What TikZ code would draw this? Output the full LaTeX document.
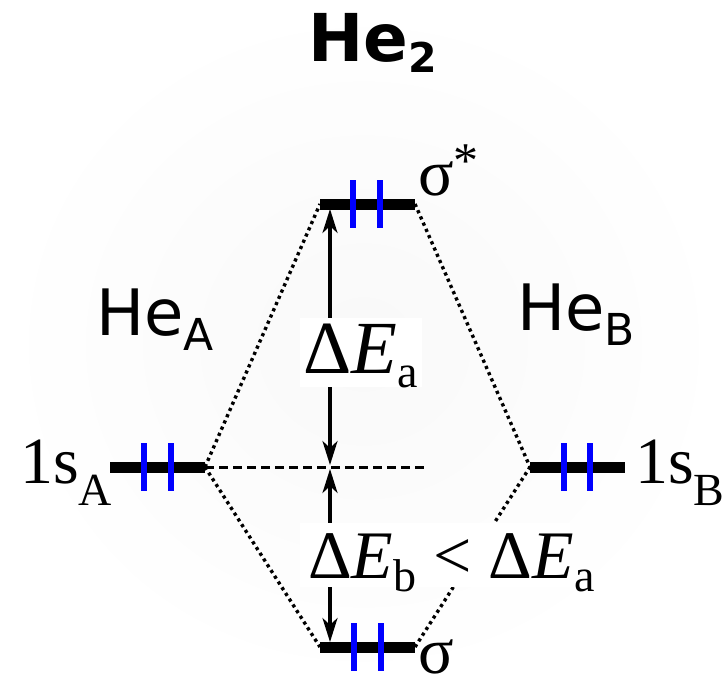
\documentclass[tikz,border=0pt]{standalone}
\usepackage{fontspec}
\setmainfont{Liberation Serif}
\newfontfamily\dvs{DejaVu Sans}
\usetikzlibrary{arrows.meta}
\tikzset{
  level/.style={line width=11pt},
  spin/.style={blue,line width=5.5pt},
  corr/.style={line width=3.4pt,dash pattern=on 3.2pt off 3.6pt},
  refline/.style={line width=3pt,dash pattern=on 9pt off 5pt},
  gap/.style={line width=3.2pt,>={Stealth[length=24pt,width=15pt,inset=7pt]},<->},
  whitebox/.style={fill=white},
  serif/.style={inner sep=0pt,font=\fontsize{66}{70}\selectfont},
  sans/.style={inner sep=0pt,font=\dvs\fontsize{64}{70}\selectfont},
}
\newcommand\lsub[2]{\raisebox{-#1}{\fontsize{46}{50}\selectfont #2}}
\begin{document}
\begin{tikzpicture}[x=1pt,y=-1pt]
\useasboundingbox (0,0) rectangle (727,688);
\shade[inner color=black!2.5,outer color=white] (0,0) rectangle (727,688);

% level end points
\coordinate (aL) at (110,467); \coordinate (aR) at (205,467);
\coordinate (bL) at (530,467); \coordinate (bR) at (625,467);
\coordinate (sL) at (320,647); \coordinate (sR) at (415,647);
\coordinate (tL) at (320,204); \coordinate (tR) at (415,204);
\coordinate (refEnd) at (427,467);
\coordinate (arrTop) at (330,209);
\coordinate (arrMidA) at (330,465);
\coordinate (arrMidB) at (330,469);
\coordinate (arrBot) at (330,642);

% correlation lines
\draw[corr] (aR) -- (tL);
\draw[corr] (aR) -- (sL);
\draw[corr] (tR) -- (bL);
\draw[corr] (sR) -- (bL);

% reference dashed line
\draw[refline] (aR) -- (refEnd);

% energy gap arrows
\draw[gap] (arrTop) -- (arrMidA);
\draw[gap] (arrMidB) -- (arrBot);

% levels
\draw[level] (aL) -- (aR);
\draw[level] (bL) -- (bR);
\draw[level] (sL) -- (sR);
\draw[level] (tL) -- (tR);

% electrons
\foreach \x/\y in {144/467,171/467,564/467,590/467,354/647,381/647,353/204,380/204}
  \draw[spin] (\x,\y-24) -- (\x,\y+24);

% labels
\fill[whitebox] (300,318) rectangle (422,387);
\node[serif,anchor=base west,font=\fontsize{75}{80}\selectfont] (dEa) at (303,373)
  {Δ\textit{E}\lsub{14pt}{a}};
\fill[whitebox] (300,523) rectangle (570,587);
\node[serif,anchor=base west,font=\fontsize{68}{72}\selectfont] (dEb) at (308,578)
  {Δ\textit{E}\lsub{13pt}{b} < Δ\textit{E}\lsub{13pt}{a}};

\node[serif,anchor=base west] (lA) at (20,483) {1s\lsub{22pt}{A}};
\node[serif,anchor=base west] (lB) at (635,483) {1s\lsub{22pt}{B}};
\node[serif,anchor=base west] (lt) at (418,195) {σ\raisebox{18pt}{\fontsize{50}{54}\selectfont *}};
\node[serif,anchor=base west] (ls) at (418,673) {σ};

\node[sans,anchor=base west] (HA) at (96,335) {He\raisebox{-15pt}{\fontsize{44}{48}\selectfont A}};
\node[sans,anchor=base west] (HB) at (517,330) {He\raisebox{-15pt}{\fontsize{44}{48}\selectfont B}};
\node[inner sep=0pt,anchor=base west,font=\dvs\bfseries\fontsize{66}{70}\selectfont] (title) at (308,61)
  {He\raisebox{-11pt}{\fontsize{41}{44}\selectfont 2}};
\end{tikzpicture}
\end{document}
